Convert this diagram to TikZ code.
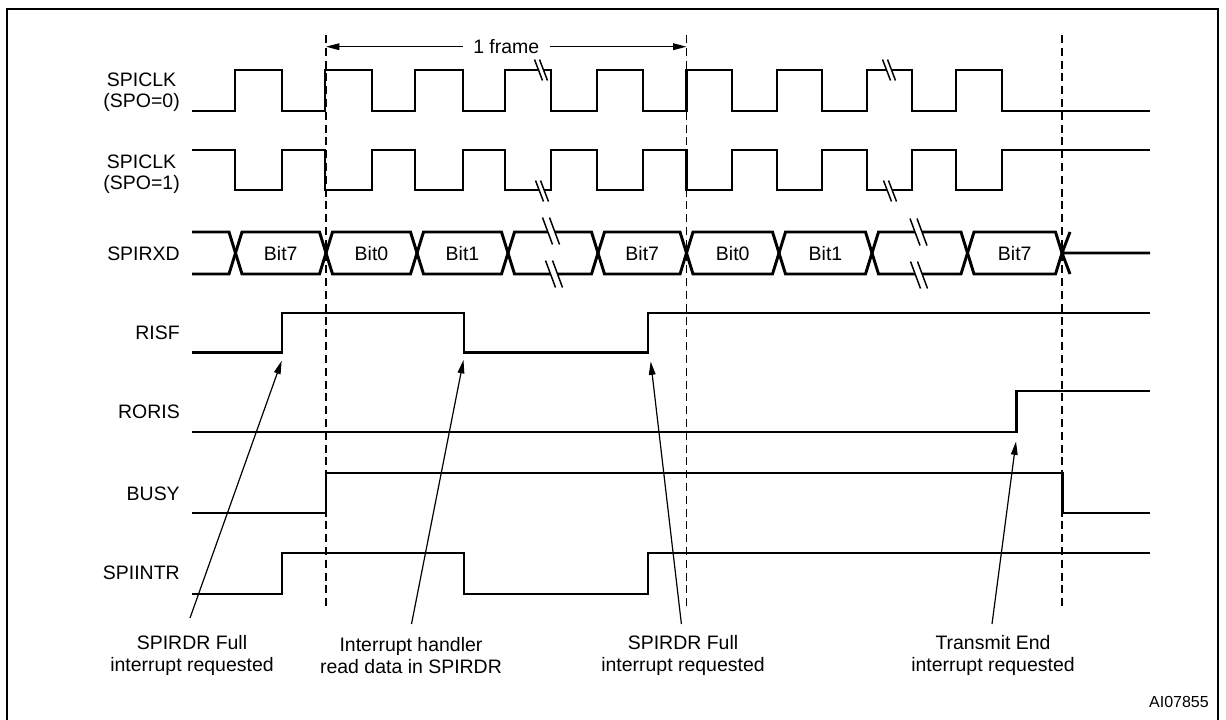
\documentclass[tikz,border=0pt]{standalone}
\usepackage{fontspec}
\setmainfont{Liberation Sans}
\usetikzlibrary{arrows.meta}
\tikzset{
  sig/.style={line width=2.2pt, line join=miter},
  guide/.style={line width=1.1pt, dash pattern=on 6pt off 3.6pt},
  pointer/.style={line width=0.9pt, -{Triangle[length=10pt,width=5pt]}},
  txt/.style={font=\fontsize{14.6pt}{16pt}\selectfont, inner sep=0pt, align=center},
  sname/.style={txt, anchor=east},
  mk/.style={line width=1.1pt},
  clkbrk/.pic={
    \fill[white] (-6.5,-10.5) -- (-1.5,-10.5) -- (6.5,10.5) -- (1.5,10.5) -- cycle;
    \draw[mk] (-6.5,-10.5) -- (1.5,10.5) (-1.5,-10.5) -- (6.5,10.5);
  },
  datbrk/.pic={
    \fill[white] (-8.5,-13.5) -- (-1.5,-13.5) -- (8.5,13.5) -- (1.5,13.5) -- cycle;
    \draw[mk] (-8.5,-13.5) -- (1.5,13.5) (-1.5,-13.5) -- (8.5,13.5);
  }
}
\begin{document}
\begin{tikzpicture}[x=0.75pt,y=-0.75pt]
\useasboundingbox (0,0) rectangle (1226,719);
% frame
\draw[line width=1.5pt] (6.5,8.5) rectangle (1218,724);

% guide lines
\foreach \gx/\gn in {326/1,686.5/2,1062/3}{
  \coordinate (g\gn t) at (\gx,35);
  \coordinate (g\gn b) at (\gx,607);
  \draw[guide] (g\gn t) -- (g\gn b);
}

% 1 frame arrow
\coordinate (fl) at (326,46.7);
\coordinate (fr) at (686.5,46.7);
\draw[line width=0.9pt, {Triangle[length=10pt,width=5pt]}-{Triangle[length=10pt,width=5pt]}] (fl) -- (fr)
  node[midway, txt, fill=white, inner xsep=8pt, inner ysep=2pt] (frm) {1 frame};

% SPICLK (SPO=0)
\draw[sig] (192,111)
  \foreach \r/\f in {235/282,325/372,415/463,505/551,597/643,686.5/732,777/822,867/912,956/1002}{
    -- (\r,111) -- (\r,70) -- (\f,70) -- (\f,111)
  } -- (1150,111);
% SPICLK (SPO=1)
\draw[sig] (192,150)
  \foreach \r/\f in {235/282,325/372,415/463,505/551,597/643,686.5/732,777/822,867/912,956/1002}{
    -- (\r,150) -- (\r,190) -- (\f,190) -- (\f,150)
  } -- (1150,150);

% SPIRXD
\draw[sig] (192,232) -- (229,232) -- (235.5,253) -- (229,274) -- (192,274);
\foreach \a/\b in {235.5/326,326/417,417/508,508/598,598/686.5,686.5/779,779/872,872/967.5,967.5/1062}{
  \draw[sig] (\a,253) -- (\a+6.5,232) -- (\b-6.5,232) -- (\b,253) -- (\b-6.5,274) -- (\a+6.5,274) -- cycle;
}
\draw[sig] (1062,253) -- (1070,232) (1062,253) -- (1070,274) (1062,253) -- (1150,253);
\foreach \a/\b/\t/\n in {235.5/326/Bit7/c1,326/417/Bit0/c2,417/508/Bit1/c3,598/686.5/Bit7/c5,686.5/779/Bit0/c6,779/872/Bit1/c7,967.5/1062/Bit7/c9}{
  \node[txt] (\n) at ({(\a+\b)/2},254) {\t};
}

% RISF
\draw[sig] (192,352.5) -- (282,352.5) -- (282,313) -- (464,313) -- (464,352.5) -- (648,352.5) -- (648,313) -- (1150,313);
% RORIS
\draw[sig] (192,432) -- (1016.5,432) -- (1016.5,391) -- (1150,391);
% BUSY
\draw[sig] (192,513) -- (326,513) -- (326,473) -- (1062.5,473) -- (1062.5,513) -- (1150,513);
% SPIINTR
\draw[sig] (192,594) -- (282,594) -- (282,553) -- (464,553) -- (464,594) -- (648,594) -- (648,553) -- (1150,553);

% break marks
\pic at (541,70) {clkbrk};
\pic at (889,70) {clkbrk};
\pic at (542,191) {clkbrk};
\pic at (890,191) {clkbrk};
\pic at (551,231) {datbrk};
\pic at (554,274) {datbrk};
\pic at (918.5,232) {datbrk};
\pic at (919,275) {datbrk};

% signal names
\node[sname] (n1) at (180,92.5) {SPICLK\\(SPO=0)};
\node[sname] (n2) at (180,174.5) {SPICLK\\(SPO=1)};
\node[sname] (n3) at (180,254) {SPIRXD};
\node[sname] (n4) at (180,333) {RISF};
\node[sname] (n5) at (180,412) {RORIS};
\node[sname] (n6) at (180,494) {BUSY};
\node[sname] (n7) at (180,573) {SPIINTR};

% annotations
\node[txt] (l1) at (192,655.5) {SPIRDR Full\\interrupt requested};
\node[txt] (l2) at (411,655.5) {Interrupt handler\\read data in SPIRDR};
\node[txt] (l3) at (683,655.5) {SPIRDR Full\\interrupt requested};
\node[txt] (l4) at (993,655.5) {Transmit End\\interrupt requested};
\node[txt, font=\fontsize{12pt}{14pt}\selectfont, anchor=east] (ai) at (1209,702) {AI07855};

\coordinate (b1) at (190,618);   \coordinate (t1) at (281.7,360.7);
\coordinate (b2) at (411.5,624); \coordinate (t2) at (463.5,360);
\coordinate (b3) at (681.4,624); \coordinate (t3) at (650.7,361.5);
\coordinate (b4) at (992,624);   \coordinate (t4) at (1016,441.5);
\draw[pointer] (b1) -- (t1);
\draw[pointer] (b2) -- (t2);
\draw[pointer] (b3) -- (t3);
\draw[pointer] (b4) -- (t4);
\end{tikzpicture}
\end{document}
